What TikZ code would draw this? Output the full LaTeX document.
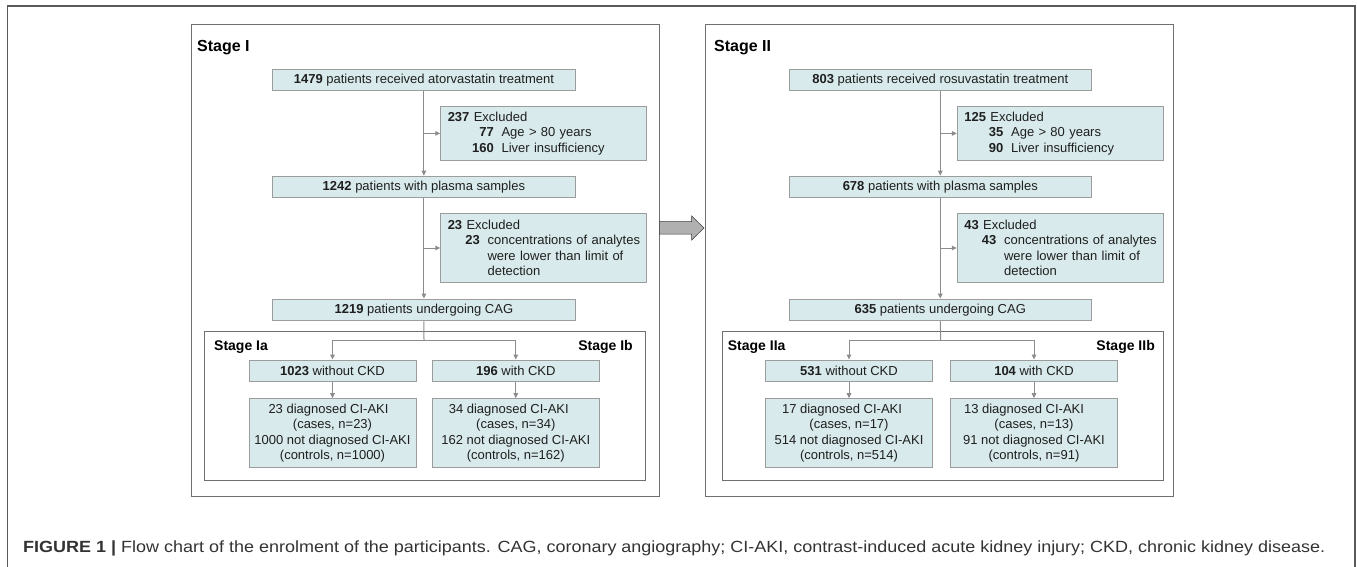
\documentclass[tikz,border=0pt]{standalone}
\usepackage{fontspec}
\usepackage{graphicx}
\setmainfont{Liberation Sans}
\usetikzlibrary{arrows.meta}
\definecolor{boxFill}{HTML}{D8EAEC}
\definecolor{boxLine}{HTML}{9C9C9C}
\definecolor{stageLine}{HTML}{707070}
\definecolor{flowLine}{HTML}{8C8C8C}
\definecolor{frameLine}{HTML}{5A5A5A}
\definecolor{capText}{HTML}{333333}
\newcommand{\exRow}[3]{\mbox{\makebox[#1pt][r]{\textbf{#2}}\hspace*{7.8pt}#3}}
\newcommand{\exMore}[2]{\mbox{\hspace*{\dimexpr#1pt+7.8pt\relax}#2}}

\begin{document}
\begin{tikzpicture}[x=1pt,y=-1pt,
  flowbox/.style={draw=boxLine, fill=boxFill, line width=1pt, inner sep=0pt, text=black!88,
    font=\fontsize{13}{15.5}\selectfont, minimum width=302.3, minimum height=21.7},
  exclbox/.style={flowbox, align=left, inner xsep=7pt, text width=191.3pt, minimum width=205.3},
  subbox/.style={flowbox, align=center, minimum width=167, minimum height=21},
  resbox/.style={flowbox, align=center, minimum width=167, minimum height=69},
  stagebox/.style={draw=stageLine, line width=1pt, inner sep=0pt},
  stagelabel/.style={anchor=base west, inner sep=0pt, font=\fontsize{16}{19}\selectfont\bfseries},
  sublabel/.style={anchor=base west, inner sep=0pt, font=\fontsize{14}{17}\selectfont\bfseries},
  flowline/.style={draw=flowLine, line width=1pt},
  flowarrow/.style={flowline, -{Triangle[length=5pt,width=4.6pt]}}]
\useasboundingbox (0,0) rectangle (1357,567);
\draw[frameLine, line width=1.3pt] (7.7,567) -- (7.7,6) -- (1355,6) -- (1355,567);

\node[stagebox, minimum width=468, minimum height=472.4] (stageI) at (425,260.5) {};
\node[stagelabel] (stageIlab) at (197,52) {Stage I};
\node[flowbox] (atorI) at (423.9,79.9) {\textbf{1479} patients received atorvastatin treatment};
\node[exclbox, minimum height=53.3] (exclI1) at (543.4,133.4) {\textbf{237} Excluded\\
  \exRow{46}{77}{Age > 80 years}\\
  \exRow{46}{160}{Liver insufficiency}};
\node[flowbox] (plasmaI) at (423.9,187) {\textbf{1242} patients with plasma samples};
\node[exclbox, minimum height=69.4] (exclI2) at (543.4,248) {\textbf{23} Excluded\\
  \exRow{32}{23}{concentrations of analytes}\\
  \exMore{32}{were lower than limit of}\\
  \exMore{32}{detection}};
\node[flowbox] (cagI) at (423.9,309.9) {\textbf{1219} patients undergoing CAG};
\node[stagebox, minimum width=441, minimum height=149.4] (subI) at (424.8,406) {};
\node[sublabel] (subIalab) at (214,350) {Stage Ia};
\node[sublabel, anchor=base east] (subIblab) at (633,350) {Stage Ib};
\node[subbox] (nockdI) at (332.5,370.5) {\textbf{1023} without CKD};
\node[subbox] (ckdI) at (515.8,370.5) {\textbf{196} with CKD};
\node[resbox] (resIa) at (332.5,433.2) {23 diagnosed CI-AKI\hspace*{8pt}\\(cases, n=23)\\1000 not diagnosed CI-AKI\\(controls, n=1000)};
\node[resbox] (resIb) at (515.8,433.2) {34 diagnosed CI-AKI\hspace*{14pt}\\(cases, n=34)\\162 not diagnosed CI-AKI\\(controls, n=162)};
\coordinate (splitI) at (424,340);
\draw[flowarrow] (atorI.south) -- (plasmaI.north);
\draw[flowarrow] (atorI.south |- exclI1.west) -- (exclI1.west);
\draw[flowarrow] (plasmaI.south) -- (cagI.north);
\draw[flowarrow] (plasmaI.south |- exclI2.west) -- (exclI2.west);
\draw[flowline] (cagI.south) -- (splitI);
\draw[flowarrow] (splitI) -| (nockdI.north);
\draw[flowarrow] (splitI) -| (ckdI.north);
\draw[flowarrow] (nockdI.south) -- (resIa.north);
\draw[flowarrow] (ckdI.south) -- (resIb.north);

\fill[fill=gray!62, draw=gray!45!black, line width=0.5pt] (659.3,221.7) -- (691.7,221.7) -- (691.7,216) -- (704,228)
  -- (691.7,240) -- (691.7,234) -- (659.3,234) -- cycle;

\node[stagebox, minimum width=468.4, minimum height=472.4] (stageII) at (939.5,260.5) {};
\node[stagelabel] (stageIIlab) at (714,52) {Stage II};
\node[flowbox, minimum width=302] (atorII) at (940.3,79.9) {\textbf{803} patients received rosuvastatin treatment};
\node[exclbox, text width=192pt, minimum width=206, minimum height=53.3] (exclII1) at (1060.3,133.4) {\textbf{125} Excluded\\
  \exRow{39}{35}{Age > 80 years}\\
  \exRow{39}{90}{Liver insufficiency}};
\node[flowbox, minimum width=302] (plasmaII) at (940.3,187) {\textbf{678} patients with plasma samples};
\node[exclbox, text width=192pt, minimum width=206, minimum height=69.4] (exclII2) at (1060.3,248) {\textbf{43} Excluded\\
  \exRow{32}{43}{concentrations of analytes}\\
  \exMore{32}{were lower than limit of}\\
  \exMore{32}{detection}};
\node[flowbox, minimum width=302] (cagII) at (940.3,309.9) {\textbf{635} patients undergoing CAG};
\node[stagebox, minimum width=440.6, minimum height=149.4] (subII) at (943,406) {};
\node[sublabel] (subIIalab) at (727.7,350) {Stage IIa};
\node[sublabel, anchor=base east] (subIIblab) at (1155,350.5) {Stage IIb};
\node[subbox, minimum width=166.6] (nockdII) at (849,370.5) {\textbf{531} without CKD};
\node[subbox, minimum width=166.6] (ckdII) at (1034,370.5) {\textbf{104} with CKD};
\node[resbox, minimum width=166.6] (resIIa) at (849,433.2) {17 diagnosed CI-AKI\hspace*{14pt}\\(cases, n=17)\\514 not diagnosed CI-AKI\\(controls, n=514)};
\node[resbox, minimum width=166.6] (resIIb) at (1034,433.2) {13 diagnosed CI-AKI\hspace*{20pt}\\(cases, n=13)\\91 not diagnosed CI-AKI\\(controls, n=91)};
\coordinate (splitII) at (940.7,340);
\draw[flowarrow] (atorII.south) -- (plasmaII.north);
\draw[flowarrow] (atorII.south |- exclII1.west) -- (exclII1.west);
\draw[flowarrow] (plasmaII.south) -- (cagII.north);
\draw[flowarrow] (plasmaII.south |- exclII2.west) -- (exclII2.west);
\draw[flowline] (cagII.south) -- (splitII);
\draw[flowarrow] (splitII) -| (nockdII.north);
\draw[flowarrow] (splitII) -| (ckdII.north);
\draw[flowarrow] (nockdII.south) -- (resIIa.north);
\draw[flowarrow] (ckdII.south) -- (resIIb.north);

\node[anchor=base west, inner sep=0pt, text=capText, font=\fontsize{16.2}{20}\selectfont] (caption) at (23,552)
  {\scalebox{1.11}[1]{\textbf{FIGURE 1 |} Flow chart of the enrolment of the participants. CAG, coronary angiography; CI-AKI, contrast-induced acute kidney injury; CKD, chronic kidney disease.}};
\end{tikzpicture}
\end{document}
